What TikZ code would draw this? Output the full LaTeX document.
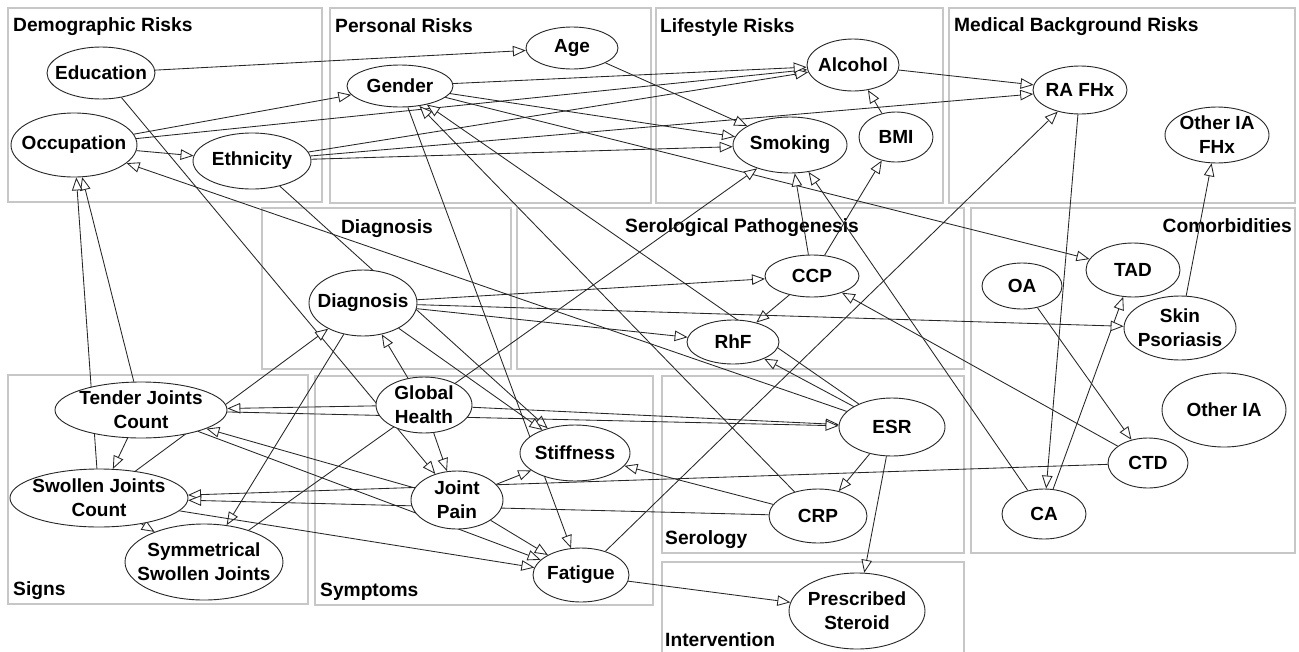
\documentclass[tikz,border=0pt]{standalone}
\usepackage{fontspec}
\setmainfont{Liberation Sans}
\usetikzlibrary{shapes.geometric,arrows.meta}
\pgfdeclarelayer{clusters}
\pgfdeclarelayer{edges}
\pgfsetlayers{clusters,edges,main}
\begin{document}
\begin{tikzpicture}[x=1pt,y=-1pt,
  ell/.style={ellipse, draw=black!85, line width=0.9pt, fill=white, inner sep=0pt},
  lbl/.style={font=\bfseries\fontsize{19}{24}\selectfont, align=center, inner sep=0pt},
  arc/.style={-{Triangle[length=13pt,width=10.5pt,fill=white]}, line width=0.85pt, draw=black!85},
  cluster/.style={draw=black!22, line width=2.2pt},
  clab/.style={font=\bfseries\fontsize{19.2}{22}\selectfont, inner sep=0pt}]
\path[use as bounding box] (0,0) rectangle (1299,651);

% ---------- nodes ----------
\node[ell, minimum width=108pt, minimum height=52pt, label={[lbl]center:Education}] (edu) at (101,73) {};
\node[ell, minimum width=126pt, minimum height=64pt, label={[lbl]center:Occupation}] (occ) at (74,145) {};
\node[ell, minimum width=118pt, minimum height=56pt, label={[lbl]center:Ethnicity}] (eth) at (252,161) {};
\node[ell, minimum width=92pt, minimum height=42pt, label={[lbl]center:Age}] (age) at (572,48) {};
\node[ell, minimum width=106pt, minimum height=42pt, label={[lbl]center:Gender}] (gen) at (400,86) {};
\node[ell, minimum width=92pt, minimum height=52pt, label={[lbl]center:Alcohol}] (alc) at (853,65) {};
\node[ell, minimum width=114pt, minimum height=56pt, label={[lbl]center:Smoking}] (smk) at (790,145) {};
\node[ell, minimum width=74pt, minimum height=50pt, label={[lbl]center:BMI}] (bmi) at (896,137) {};
\node[ell, minimum width=94pt, minimum height=48pt, label={[lbl]center:RA FHx}] (rafhx) at (1080,90) {};
\node[ell, minimum width=104pt, minimum height=56pt, label={[lbl]center:{Other IA\\FHx}}] (oiafhx) at (1217,135) {};
\node[ell, minimum width=108pt, minimum height=66pt, label={[lbl]center:Diagnosis}] (dia) at (363,303) {};
\node[ell, minimum width=94pt, minimum height=42pt, label={[lbl]center:CCP}] (ccp) at (812,276) {};
\node[ell, minimum width=92pt, minimum height=44pt, label={[lbl]center:RhF}] (rhf) at (733,342) {};
\node[ell, minimum width=94pt, minimum height=54pt, label={[lbl]center:TAD}] (tad) at (1133,270) {};
\node[ell, minimum width=80pt, minimum height=46pt, label={[lbl]center:OA}] (oa) at (1022,286) {};
\node[ell, minimum width=112pt, minimum height=64pt, label={[lbl]center:{Skin\\Psoriasis}}] (skin) at (1180,328) {};
\node[ell, minimum width=124pt, minimum height=74pt, label={[lbl]center:Other IA}] (oia) at (1224,410) {};
\node[ell, minimum width=80pt, minimum height=50pt, label={[lbl]center:CTD}] (ctd) at (1148,463) {};
\node[ell, minimum width=84pt, minimum height=50pt, label={[lbl]center:CA}] (ca) at (1044,514) {};
\node[ell, minimum width=172pt, minimum height=56pt, label={[lbl]center:{Tender Joints\\Count}}] (tjc) at (141,410) {};
\node[ell, minimum width=178pt, minimum height=58pt, label={[lbl]center:{Swollen Joints\\Count}}] (sjc) at (99,498) {};
\node[ell, minimum width=158pt, minimum height=76pt, label={[lbl]center:{Symmetrical\\Swollen Joints}}] (ssj) at (204,562) {};
\node[ell, minimum width=96pt, minimum height=56pt, label={[lbl]center:{Global\\Health}}] (gh) at (424,405) {};
\node[ell, minimum width=110pt, minimum height=56pt, label={[lbl]center:Stiffness}] (stf) at (575,453) {};
\node[ell, minimum width=92pt, minimum height=58pt, label={[lbl]center:{Joint\\Pain}}] (jp) at (457,500) {};
\node[ell, minimum width=96pt, minimum height=54pt, label={[lbl]center:Fatigue}] (fat) at (581,575) {};
\node[ell, minimum width=106pt, minimum height=58pt, label={[lbl]center:ESR}] (esr) at (892,427) {};
\node[ell, minimum width=98pt, minimum height=54pt, label={[lbl]center:CRP}] (crp) at (818,516) {};
\node[ell, minimum width=136pt, minimum height=76pt, label={[lbl]center:{Prescribed\\Steroid}}] (pst) at (857,611) {};

% ---------- clusters ----------
\begin{pgfonlayer}{clusters}
\fill[white] (0,0) rectangle (1299,651);
\draw[cluster] (8,8) rectangle (322,202);
\draw[cluster] (330,8) rectangle (651,203);
\draw[cluster] (656,8) rectangle (943,203);
\draw[cluster] (949,8) rectangle (1295,203);
\draw[cluster] (262,208) rectangle (511,369);
\draw[cluster] (517,208) rectangle (964,369);
\draw[cluster] (971,208) rectangle (1295,553);
\draw[cluster] (8,375) rectangle (308,604);
\draw[cluster] (315,376) rectangle (653,605);
\draw[cluster] (662,376) rectangle (964,553);
\draw[cluster] (662,562) rectangle (964,670);
\node[clab, anchor=base west] (lDemo) at (13,31) {Demographic Risks};
\node[clab, anchor=base west] (lPers) at (335,32) {Personal Risks};
\node[clab, anchor=base west] (lLife) at (660,32) {Lifestyle Risks};
\node[clab, anchor=base west] (lMed) at (954,31) {Medical Background Risks};
\node[clab, anchor=base] (lDiag) at (387,233) {Diagnosis};
\node[clab, anchor=base west] (lSero) at (625,232) {Serological Pathogenesis};
\node[clab, anchor=base east] (lCom) at (1292,232) {Comorbidities};
\node[clab, anchor=base west] (lSigns) at (13,595) {Signs};
\node[clab, anchor=base west] (lSym) at (320,596) {Symptoms};
\node[clab, anchor=base west] (lSerol) at (665,544) {Serology};
\node[clab, anchor=base west] (lInt) at (665,646) {Intervention};
\end{pgfonlayer}

% ---------- edges ----------
\begin{pgfonlayer}{edges}
\draw[arc] (edu) -- (age);
\draw[arc] (edu) -- (jp);
\draw[arc] (occ) -- (gen);
\draw[arc] (occ) -- (alc);
\draw[arc] (occ) -- (eth);
\draw[arc] (eth) -- (alc);
\draw[arc] (eth) -- (smk);
\draw[arc] (eth) -- (rafhx);
\draw[arc] (eth) -- (stf);
\draw[arc] (gen) -- (alc);
\draw[arc] (gen) -- (smk);
\draw[arc] (gen) -- (tad);
\draw[arc] (gen) -- (fat);
\draw[arc] (age) -- (smk);
\draw[arc] (alc) -- (rafhx);
\draw[arc] (bmi) -- (alc);
\draw[arc] (ccp) -- (bmi);
\draw[arc] (ccp) -- (smk);
\draw[arc] (ccp) -- (rhf);
\draw[arc] (ca) -- (smk);
\draw[arc] (ssj) -- (smk);
\draw[arc] (rafhx) -- (ca);
\draw[arc] (ca) -- (tad);
\draw[arc] (skin) -- (oiafhx);
\draw[arc] (dia) -- (skin);
\draw[arc] (dia) -- (ccp);
\draw[arc] (dia) -- (rhf);
\draw[arc] (dia) -- (stf);
\draw[arc] (dia) -- (ssj);
\draw[arc] (oa) -- (ctd);
\draw[arc] (ctd) -- (sjc);
\draw[arc] (ctd) -- (ccp);
\draw[arc] (esr) -- (rhf);
\draw[arc] (esr) -- (crp);
\draw[arc] (esr) -- (pst);
\draw[arc] (esr) -- (occ);
\draw[arc] (esr) -- (gen);
\draw[arc] (crp) -- (gen);
\draw[arc] (crp) -- (stf);
\draw[arc] (crp) -- (sjc);
\draw[arc] (gh) -- (dia);
\draw[arc] (gh) -- (tjc);
\draw[arc] (gh) -- (esr);
\draw[arc] (gh) -- (jp);
\draw[arc] (tjc) -- (esr);
\draw[arc] (tjc) -- (sjc);
\draw[arc] (tjc) -- (occ);
\draw[arc] (tjc) -- (fat);
\draw[arc] (sjc) -- (occ);
\draw[arc] (sjc) -- (dia);
\draw[arc] (sjc) -- (ssj);
\draw[arc] (sjc) -- (fat);
\draw[arc] (jp) -- (tjc);
\draw[arc] (jp) -- (stf);
\draw[arc] (jp) -- (fat);
\draw[arc] (fat) -- (rafhx);
\draw[arc] (fat) -- (pst);
\end{pgfonlayer}
\end{tikzpicture}
\end{document}
